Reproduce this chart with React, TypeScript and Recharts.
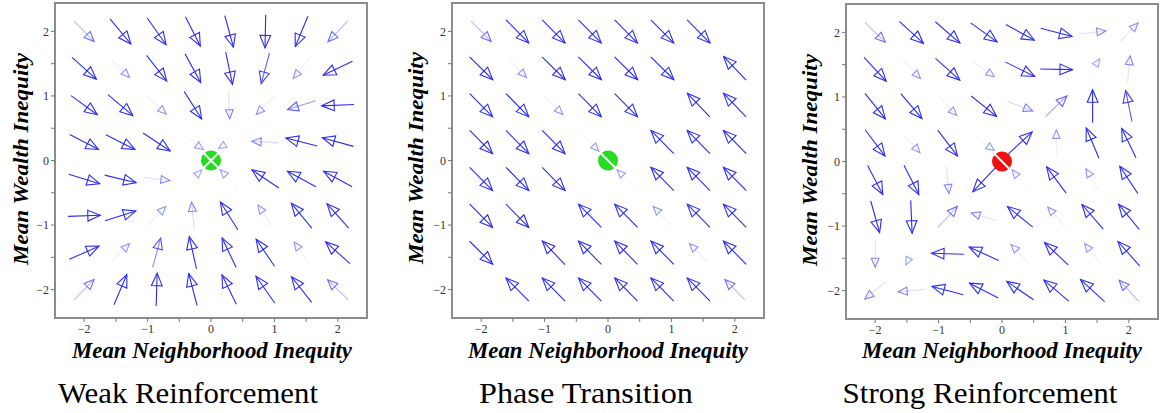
import React from 'react';
import { ComposedChart, XAxis, YAxis, ReferenceLine, ReferenceArea, Scatter } from 'recharts';

// grid of arrow centres (8 x 8), rows from top (y = 2) to bottom (y = -2)
const gridX = [-2, -1.4286, -0.8571, -0.2857, 0.2857, 0.8571, 1.4286, 2];
const gridY = [2, 1.4286, 0.8571, 0.2857, -0.2857, -0.8571, -1.4286, -2];
const axisTicks = [-2, -1.5, -1, -0.5, 0, 0.5, 1, 1.5, 2];
const fixedPoint = [{ x: 0, y: 0 }];

// Weak Reinforcement: arrow direction (dx, dy) and shade (0 = none, 1 = full blue)
const weakDx = [
  [68, 65, 58, 45, 27, -2, -38, -66],
  [72, 10, 60, 47, 21, -25, -10, -88],
  [80, 76, 10, 55, 5, -10, -88, -95],
  [88, 90, 84, 10, -10, -85, -92, -92],
  [96, 96, 85, 10, -10, -80, -85, -85],
  [98, 90, 10, -8, -52, -7, -75, -77],
  [92, 10, 25, -22, -42, -55, -7, -72],
  [65, 38, 3, -25, -43, -54, -60, -65],
];
const weakDy = [
  [-68, -77, -81, -87, -97, -100, -90, -68],
  [-63, -10, -75, -85, -97, -90, -12, -41],
  [-57, -63, -9, -85, -95, -10, -27, -4],
  [-45, -45, -55, -7, -6, 5, 23, 25],
  [-29, -23, -10, 10, 10, 53, 45, 45],
  [3, 28, 10, 80, 81, 10, 90, 85],
  [40, 10, 90, 96, 87, 79, 10, 63],
  [65, 88, 97, 93, 87, 75, 75, 62],
];
const weakShade = [
  [0.5, 1, 1, 1, 1, 1, 1, 0.5],
  [1, 0.2, 1, 1, 1, 0.85, 0.2, 1],
  [1, 1, 0.2, 1, 0.3, 0.2, 0.65, 1],
  [1, 1, 1, 0.15, 0.06, 0.35, 1, 1],
  [1, 1, 0.3, 0.06, 0.15, 1, 1, 1],
  [1, 1, 0.2, 0.35, 1, 0.2, 1, 1],
  [1, 0.2, 0.7, 1, 1, 1, 0.2, 1],
  [0.5, 1, 1, 1, 1, 1, 1, 0.5],
];

// Phase Transition
const phaseDx = [
  [70, 70, 70, 70, 70, 70, 70, 0],
  [70, 10, 70, 70, 70, 70, 0, -66],
  [70, 70, 10, 70, 70, 0, -66, -66],
  [70, 70, 70, 10, 0, -68, -68, -68],
  [70, 70, 70, 0, -10, -68, -68, -68],
  [70, 70, 0, -70, -70, -10, -70, -70],
  [70, 0, -68, -70, -70, -70, -10, -70],
  [0, -70, -70, -70, -70, -70, -70, -70],
];
const phaseDy = [
  [-70, -70, -70, -70, -70, -70, -70, 0],
  [-68, -10, -68, -68, -68, -68, 0, 68],
  [-70, -70, -10, -70, -70, 0, 68, 68],
  [-70, -70, -70, -10, 0, 68, 68, 68],
  [-70, -70, -70, 0, 10, 68, 68, 68],
  [-70, -70, 0, 70, 70, 10, 70, 70],
  [-68, 0, 70, 70, 70, 70, 10, 70],
  [0, 70, 70, 70, 70, 70, 70, 70],
];
const phaseShade = [
  [0.5, 1, 1, 1, 1, 1, 1, 0],
  [1, 0.2, 1, 1, 1, 1, 0, 1],
  [1, 1, 0.2, 1, 1, 0, 1, 1],
  [1, 1, 1, 0.15, 0, 1, 1, 1],
  [1, 1, 1, 0, 0.15, 1, 1, 1],
  [1, 1, 0, 1, 1, 0.2, 1, 1],
  [1, 0, 1, 1, 1, 1, 0.2, 1],
  [0, 1, 1, 1, 1, 1, 1, 0.5],
];

// Strong Reinforcement
const strongDx = [
  [67, 70, 74, 78, 85, 93, 95, 10],
  [67, 10, 72, 10, 87, 97, 7, 1],
  [61, 63, 10, 76, 90, 66, 0, -20],
  [61, 9, 60, 10, 80, 0, -40, -43],
  [45, 44, 1, -70, -8, -57, -6, -52],
  [27, 4, 57, -10, -73, -9, -62, -60],
  [0, -5, -98, -89, -10, -70, -8, -65],
  [-10, -10, -95, -85, -77, -72, -70, -60],
];
const strongDy = [
  [-64, -63, -63, -55, -46, -24, 10, 10],
  [-71, -10, -63, -7, -42, -2, 10, 10],
  [-75, -73, -10, -60, -33, 63, 100, 96],
  [-79, -10, -77, -7, 72, 10, 93, 87],
  [-85, -85, -10, -73, 10, 75, 10, 77],
  [-95, -95, 60, 3, 58, 10, 70, 72],
  [-10, -10, 3, 40, 10, 65, 10, 72],
  [-8, -1, 25, 43, 52, 60, 63, 63],
];
const strongShade = [
  [0.5, 1, 1, 1, 1, 1, 0.3, 0.25],
  [1, 0.2, 1, 0.2, 1, 1, 0.1, 0.3],
  [1, 1, 0.2, 1, 0.35, 0.6, 1, 0.85],
  [1, 0.2, 1, 0.15, 1, 0.2, 1, 1],
  [1, 1, 0.3, 1, 0.15, 1, 0.2, 1],
  [1, 1, 0.5, 0.3, 1, 0.2, 1, 1],
  [0.3, 0.1, 1, 1, 0.2, 1, 0.2, 1],
  [0.3, 0.35, 1, 1, 1, 1, 1, 0.5],
];

const BLUE = [44, 44, 240];
const mix = (k: number) => {
  const c = BLUE.map((v) => Math.round(255 + (v - 255) * Math.max(0, Math.min(1, k))));
  return `rgb(${c[0]},${c[1]},${c[2]})`;
};

function buildArrows(dx: number[][], dy: number[][], shade: number[][]) {
  const out: any[] = [];
  gridY.forEach((y, r) =>
    gridX.forEach((x, c) => {
      const s = shade[r][c];
      if (!s) return;
      const n = Math.hypot(dx[r][c], dy[r][c]);
      const half = 0.255 * (0.75 + 0.25 * s);
      const ux = (dx[r][c] / n) * half;
      const uy = (dy[r][c] / n) * half;
      out.push({ key: `${r}-${c}`, x1: x - ux, y1: y - uy, x2: x + ux, y2: y + uy, s });
    })
  );
  return out;
}

function Arrow(props: any) {
  const { x1, y1, x2, y2, s } = props;
  if ([x1, y1, x2, y2].some((v) => typeof v !== 'number' || isNaN(v))) return <g />;
  const len = Math.hypot(x2 - x1, y2 - y1) || 1;
  const ux = (x2 - x1) / len;
  const uy = (y2 - y1) / len;
  const hl = 12.5 * (0.6 + 0.4 * s);
  const hw = hl * 0.43;
  const bx = x2 - ux * hl;
  const by = y2 - uy * hl;
  const pts = `${x2},${y2} ${bx - uy * hw},${by + ux * hw} ${bx + uy * hw},${by - ux * hw}`;
  return (
    <g>
      <line x1={x1} y1={y1} x2={x2} y2={y2} stroke={mix(Math.pow(s, 1.6))} strokeWidth={1.1} />
      <polygon points={pts} fill="none" stroke={mix(0.4 + 0.6 * s)} strokeWidth={1.1} />
    </g>
  );
}

const makeMarker = (fill: string, cross: boolean) => (props: any) => {
  const { cx, cy } = props;
  const d = 7.5;
  return (
    <g>
      <circle cx={cx} cy={cy} r={10} fill={fill} />
      <line x1={cx - d} y1={cy - d} x2={cx + d} y2={cy + d} stroke="#fff" strokeWidth={2} />
      {cross && <line x1={cx + d} y1={cy - d} x2={cx - d} y2={cy + d} stroke="#fff" strokeWidth={2} />}
    </g>
  );
};

const SERIF = "'Liberation Serif', serif";
const fmt = (v: number) => (Number.isInteger(v) ? (v < 0 ? `\u2212${-v}` : `${v}`) : '');
const tickStyle = { fontSize: 12, fontFamily: SERIF, fill: '#333' };

function Panel({ left, top, dx, dy, shade, color, cross }: any) {
  const arrows = buildArrows(dx, dy, shade);
  return (
    <div style={{ position: 'absolute', left, top }}>
      <ComposedChart width={372} height={413} margin={{ top: 3, right: 5, bottom: 65, left: 10 }}>
        <XAxis type="number" dataKey="x" domain={[-2.46, 2.46]} ticks={axisTicks} interval={0}
          allowDataOverflow tickFormatter={fmt} axisLine={false} tickSize={4}
          tickLine={{ stroke: '#777' }} tick={tickStyle} height={30} />
        <YAxis type="number" dataKey="y" domain={[-2.44, 2.44]} ticks={axisTicks} interval={0}
          allowDataOverflow tickFormatter={fmt} axisLine={false} tickSize={4}
          tickLine={{ stroke: '#777' }} tick={tickStyle} width={45} />
        <ReferenceArea x1={-2.46} x2={2.46} y1={-2.44} y2={2.44} fill="none" fillOpacity={0}
          stroke="#8c8c8c" strokeWidth={2} ifOverflow="visible" />
        <Scatter data={fixedPoint} dataKey="y" isAnimationActive={false} shape={makeMarker(color, cross)} />
        {arrows.map((a) => (
          <ReferenceLine key={a.key} ifOverflow="visible"
            segment={[{ x: a.x1, y: a.y1 }, { x: a.x2, y: a.y2 }]}
            shape={(p: any) => <Arrow {...p} s={a.s} />} />
        ))}
      </ComposedChart>
    </div>
  );
}

const xTitles = [212, 608, 1002];
const yTitles = [[28, 159], [423, 158], [817, 160]];
const captions = [
  { text: 'Weak Reinforcement', x: 188, w: 260 },
  { text: 'Phase Transition', x: 586, w: 214 },
  { text: 'Strong Reinforcement', x: 980, w: 275 },
];

export default function App() {
  return (
    <div style={{ position: 'absolute', left: 0, top: 0, width: 1165, height: 413, background: '#fff', overflow: 'hidden' }}>
      <Panel left={0} top={0} dx={weakDx} dy={weakDy} shade={weakShade} color="#22dd22" cross />
      <Panel left={396.7} top={0} dx={phaseDx} dy={phaseDy} shade={phaseShade} color="#22dd22" cross={false} />
      <Panel left={790.7} top={1} dx={strongDx} dy={strongDy} shade={strongShade} color="#ee1111" cross={false} />
      <svg width={1165} height={413} style={{ position: 'absolute', left: 0, top: 0, pointerEvents: 'none' }}>
        {xTitles.map((x, i) => (
          <text key={`xt${i}`} x={x} y={358} textAnchor="middle" fontSize={22.5} textLength={280}
            lengthAdjust="spacingAndGlyphs" fontFamily={SERIF} fontWeight="bold" fontStyle="italic">
            Mean Neighborhood Inequity
          </text>
        ))}
        {yTitles.map(([x, y], i) => (
          <text key={`yt${i}`} x={0} y={0} transform={`translate(${x},${y}) rotate(-90)`} textAnchor="middle"
            fontSize={22} textLength={212} lengthAdjust="spacingAndGlyphs" fontFamily={SERIF}
            fontWeight="bold" fontStyle="italic">
            Mean Wealth Inequity
          </text>
        ))}
        {captions.map((c, i) => (
          <text key={`c${i}`} x={c.x} y={403} textAnchor="middle" fontSize={30} textLength={c.w}
            lengthAdjust="spacingAndGlyphs" fontFamily={SERIF}>
            {c.text}
          </text>
        ))}
      </svg>
    </div>
  );
}
